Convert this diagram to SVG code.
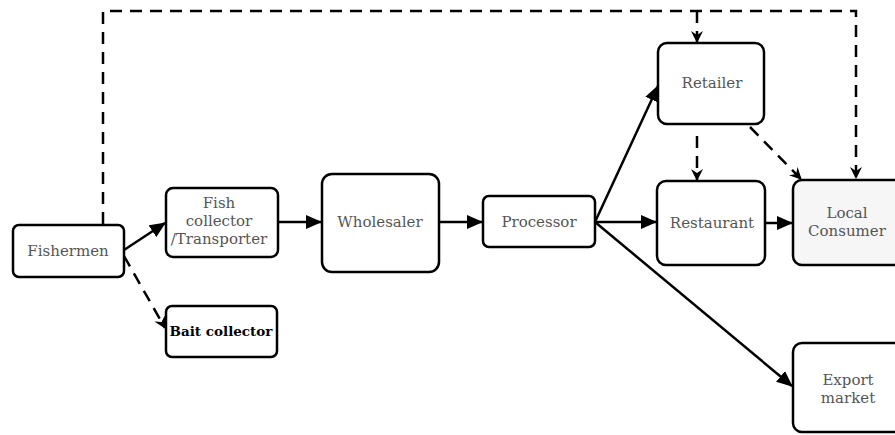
<svg xmlns="http://www.w3.org/2000/svg" width="895" height="435" viewBox="0 0 895 435">
<defs>
<marker id="ah" markerWidth="16" markerHeight="14" refX="15" refY="7" orient="auto" markerUnits="userSpaceOnUse"><path d="M0,0 L16,7 L0,14 z" fill="#000"/></marker>
<marker id="ahs" markerWidth="12" markerHeight="12" refX="11" refY="6" orient="auto" markerUnits="userSpaceOnUse"><path d="M0,0 L12,6 L0,12 L4,6 z" fill="#000"/></marker>
<style>
.box{fill:#fff;stroke:#000;stroke-width:2.5}
.t{font-family:"DejaVu Serif",serif;font-size:15px;fill:#555;text-anchor:middle}
.b{font-family:"DejaVu Serif",serif;font-size:13.5px;font-weight:bold;fill:#000;text-anchor:middle}
.s{fill:none;stroke:#000;stroke-width:2.5}
.d{fill:none;stroke:#000;stroke-width:2.5;stroke-dasharray:12 8}
</style>
</defs>
<rect width="895" height="435" fill="#fff"/>
<g id="connectors">
<path class="d" d="M103,224 V11 H856 V178" marker-end="url(#ahs)"/>
<path class="d" d="M697,11 V42" marker-end="url(#ahs)"/>
<path class="d" d="M697,136 V180" marker-end="url(#ahs)"/>
<path class="d" d="M750,127 L801,179" marker-end="url(#ahs)"/>
<path class="d" d="M124,256 L165,328" marker-end="url(#ahs)"/>
<path class="s" d="M124,250 L165,223" marker-end="url(#ah)"/>
<path class="s" d="M278,222 H321" marker-end="url(#ah)"/>
<path class="s" d="M439,222 H482" marker-end="url(#ah)"/>
<path class="s" d="M595,222 L658,86" marker-end="url(#ah)"/>
<path class="s" d="M595,222 H656" marker-end="url(#ah)"/>
<path class="s" d="M765,223 H792" marker-end="url(#ah)"/>
<path class="s" d="M595,222 L792,386" marker-end="url(#ah)"/>
</g>
<g id="fishermen"><rect class="box" x="13" y="225" width="111" height="52" rx="6"/><text class="t" x="68" y="256">Fishermen</text></g>
<g id="fish-collector"><rect class="box" x="166" y="188" width="112" height="69" rx="7"/><text class="t" x="219" y="208">Fish</text><text class="t" x="219" y="226">collector</text><text class="t" x="219" y="244">/Transporter</text></g>
<g id="bait-collector"><rect class="box" x="166" y="306" width="111" height="51" rx="6"/><text class="b" x="221" y="336">Bait collector</text></g>
<g id="wholesaler"><rect class="box" x="322" y="174" width="117" height="98" rx="10"/><text class="t" x="380" y="227">Wholesaler</text></g>
<g id="processor"><rect class="box" x="483" y="196" width="112" height="51" rx="6"/><text class="t" x="539" y="227">Processor</text></g>
<g id="retailer"><rect class="box" x="658" y="43" width="106" height="81" rx="9"/><text class="t" x="712" y="88">Retailer</text></g>
<g id="restaurant"><rect class="box" x="657" y="181" width="108" height="84" rx="9"/><text class="t" x="712" y="228">Restaurant</text></g>
<g id="local-consumer"><rect class="box" x="793" y="180" width="110" height="85" rx="9" style="fill:#f6f6f6"/><text class="t" x="847" y="218">Local</text><text class="t" x="847" y="236">Consumer</text></g>
<g id="export-market"><rect class="box" x="793" y="343" width="110" height="89" rx="9"/><text class="t" x="848" y="385">Export</text><text class="t" x="848" y="403">market</text></g>
</svg>
